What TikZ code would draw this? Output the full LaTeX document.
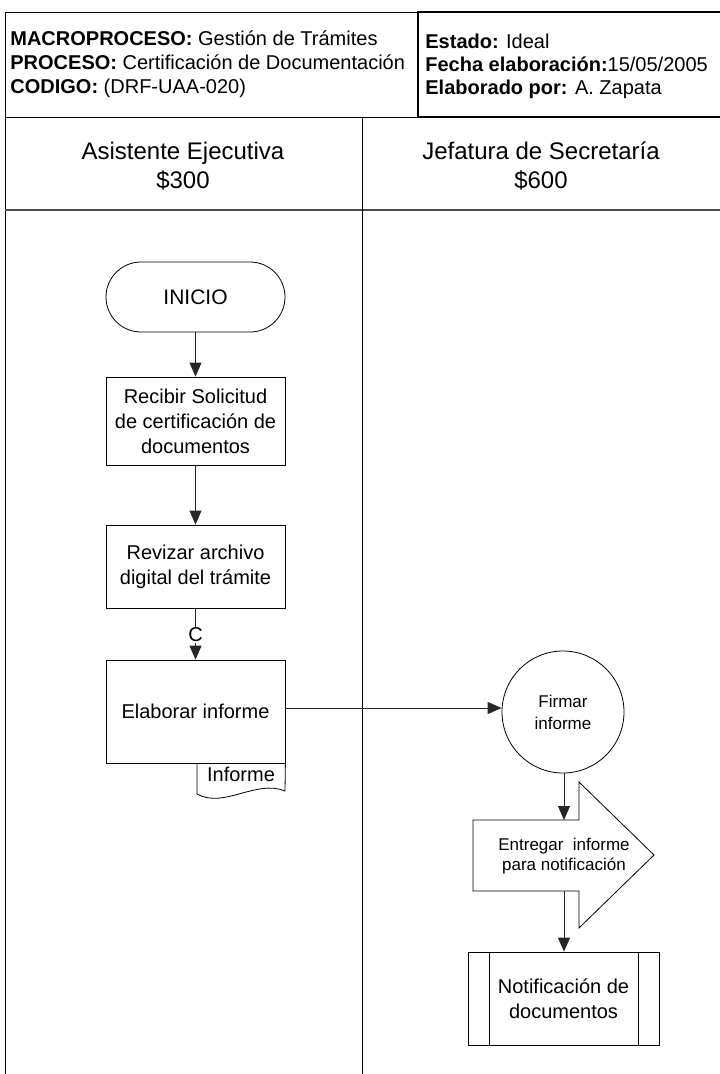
\documentclass[tikz,border=0pt]{standalone}
\usepackage{fontspec}
\setmainfont{Liberation Sans}
\usetikzlibrary{arrows.meta}

\tikzset{
  caja/.style={draw, rectangle, minimum width=179pt, align=center, inner sep=2pt, font=\fontsize{20}{25}\selectfont},
  flecha/.style={->, >={Triangle[length=14pt,width=12pt]}, draw=black!85, line width=0.9pt},
  cabecera/.style={anchor=west, align=left, inner sep=0pt},
  carril/.style={align=center, font=\fontsize{24}{29}\selectfont},
}

\begin{document}
\begin{tikzpicture}[x=1pt, y=-1pt, line width=0.8pt]
	\useasboundingbox (0,0) rectangle (720,1074);
	% marco y carriles
	\draw (5,1074) -- (5,12) -- (720,12);
	\draw (5,117) -- (418,117);
	\draw[line width=1.6pt] (418,12) rectangle (721,117);
	\draw[black!70, line width=1.6pt] (5,210) -- (720,210);
	\draw (362,117) -- (362,1074);
	\node[cabecera, font=\fontsize{20}{24}\selectfont] (macro)at(10, 64) {\textbf{MACROPROCESO:} Gestión de Trámites\\\textbf{PROCESO:} Certificación de Documentación\\\textbf{CODIGO:} (DRF-UAA-020)};
	\node[cabecera, font=\fontsize{20}{23}\selectfont] (estado)at(425, 66) {\textbf{Estado:} Ideal\\\textbf{Fecha elaboración:}15/05/2005\\\textbf{Elaborado por:} A. Zapata};
	\node[carril] (asistente)at(183, 166) {Asistente Ejecutiva\\\$300};
	\node[carril] (jefatura)at(541, 166) {Jefatura de Secretaría\\\$600};
	% asistente ejecutiva
	\node[caja, rounded corners=35pt, minimum height=70pt, font=\fontsize{21}{25}\selectfont] (inicio)at(195.5, 297) {INICIO};
	\node[caja, minimum height=88pt] (recibir)at(195.5, 421) {Recibir Solicitud\\de certificación de\\documentos};
	\node[caja, minimum height=83pt] (revisar)at(195.5, 566.5) {Revizar archivo\\digital del trámite};
	\node[caja, minimum height=103pt] (elaborar)at(195.5, 711.5) {Elaborar informe};
	\node[font=\fontsize{20}{25}\selectfont] (informe)at(241, 774) {Informe};
	\draw (elaborar.south -| 197,0) -- (197,794) .. controls (224,809) and (256,779) .. (285,791) -- (elaborar.south east);
	% jefatura de secretaria
	\node[draw, circle, minimum size=122pt, align=center, font=\fontsize{17}{22}\selectfont] (firmar)at(563, 712) {Firmar\\informe};
	\draw (473,820) -- (579,820) -- (579,782) -- (654,855) -- (579,928) -- (579,891) -- (473,891) -- cycle;
	\node[align=center, font=\fontsize{17}{20}\selectfont] (entregar)at(564, 856) {Entregar~ informe\\para notificación};
	\coordinate (ent-n) at (564,820);
	\coordinate (ent-s) at (564,891);
	\node[caja, minimum width=191pt, minimum height=93pt] (notificar)at(563.5, 998.5) {Notificación de\\documentos};
	\draw ([xshift=22pt]notificar.north west) -- ([xshift=22pt]notificar.south west);
	\draw ([xshift=-21pt]notificar.north east) -- ([xshift=-21pt]notificar.south east);
	% conectores
	\draw[flecha] (inicio) -- (recibir);
	\draw[flecha] (recibir) -- (revisar);
	\draw[flecha] (revisar) -- node[pos=0.52, fill=white, inner sep=0.5pt, font=\fontsize{20}{24}\selectfont] (c) {C} (elaborar);
	\draw[flecha] (elaborar.east |- 0,708) -- (firmar.west |- 0,708);
	\draw[flecha] (firmar.south -| ent-n) -- (ent-n);
	\draw[flecha] (ent-s) -- (notificar.north -| ent-s);
\end{tikzpicture}
\end{document}
